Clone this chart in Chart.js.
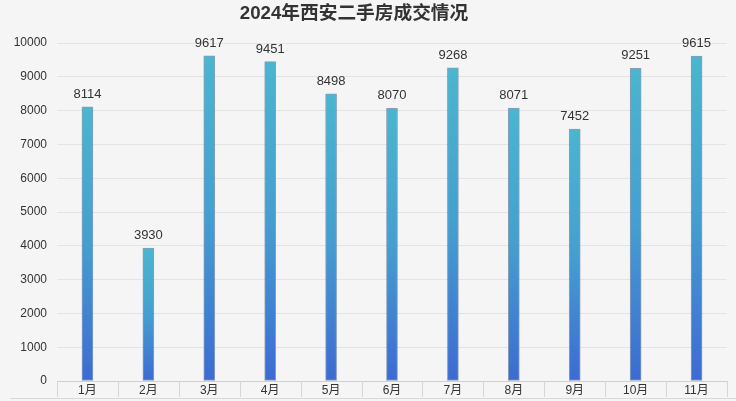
<!DOCTYPE html>
<html>
<head>
<meta charset="utf-8">
<script src="https://cdn.jsdelivr.net/npm/chart.js@4.4.1/dist/chart.umd.min.js"></script>
<style>
html,body{margin:0;padding:0;background:#f5f5f5;}
#wrap{position:relative;width:736px;height:401px;}
#bottomLine{position:absolute;left:10px;right:0;top:398px;height:1px;background:#d8d8d8;}
</style>
</head>
<body>
<div id="wrap"><canvas id="c"></canvas><div id="bottomLine"></div></div>
<script>
const titleText = '2024年西安二手房成交情况';
const categories = ['1月','2月','3月','4月','5月','6月','7月','8月','9月','10月','11月'];
const deals = [8114, 3930, 9617, 9451, 8498, 8070, 9268, 8071, 7452, 9251, 9615];
const yTicks = [0,1000,2000,3000,4000,5000,6000,7000,8000,9000,10000];

const labelPlugin = {
  id: 'valueLabels',
  afterDatasetsDraw(chart){
    const ctx = chart.ctx;
    const meta = chart.getDatasetMeta(0);
    ctx.save();
    ctx.font = '13px "Liberation Sans", Arial, sans-serif';
    ctx.fillStyle = '#333';
    ctx.textAlign = 'center';
    ctx.textBaseline = 'bottom';
    meta.data.forEach((bar, i) => {
      ctx.fillText(String(deals[i]), bar.x, bar.y - 6);
    });
    ctx.restore();
  }
};

const titlePlugin = {
  id: 'customTitle',
  afterDraw(chart){
    const ctx = chart.ctx;
    ctx.save();
    ctx.font = 'bold 18.7px "Liberation Sans", "Noto Sans CJK SC", sans-serif';
    ctx.fillStyle = '#333';
    ctx.textAlign = 'center';
    ctx.textBaseline = 'middle';
    ctx.fillText(titleText, 354, 14);
    ctx.restore();
  }
};

const separatorPlugin = {
  id: 'xSeparators',
  afterDraw(chart){
    const ctx = chart.ctx;
    const xs = chart.scales.x;
    const area = chart.chartArea;
    const half = (xs.getPixelForValue(1) - xs.getPixelForValue(0)) / 2;
    ctx.save();
    ctx.strokeStyle = '#d6d6d6';
    ctx.lineWidth = 1;
    ctx.beginPath();
    for (let i = 0; i <= categories.length; i++) {
      const x = Math.round(xs.getPixelForValue(i) - half) + 0.5;
      ctx.moveTo(x, area.bottom);
      ctx.lineTo(x, area.bottom + 16);
    }
    ctx.stroke();
    ctx.restore();
  }
};

new Chart(document.getElementById('c'), {
  type: 'bar',
  data: {
    labels: categories,
    datasets: [{
      data: deals,
      barThickness: 11,
      borderWidth: 1,
      borderSkipped: false,
      borderColor: 'rgba(25,70,120,0.5)',
      backgroundColor(context){
        const chart = context.chart;
        const ys = chart.scales && chart.scales.y;
        if (!ys || context.raw == null) return '#4ab6cf';
        const top = ys.getPixelForValue(context.raw);
        const base = ys.getPixelForValue(0);
        if (!isFinite(top) || !isFinite(base) || base - top < 1) return '#4ab6cf';
        const g = chart.ctx.createLinearGradient(0, top, 0, base);
        g.addColorStop(0, '#4ab6cf');
        g.addColorStop(0.5, '#449fd0');
        g.addColorStop(1, '#3d6ad4');
        return g;
      }
    }]
  },
  options: {
    responsive: true,
    maintainAspectRatio: false,
    animation: false,
    layout: { padding: { top: 43, right: 9, left: 0, bottom: 4 } },
    plugins: { legend: { display: false }, title: { display: false }, tooltip: { enabled: false } },
    scales: {
      x: {
        afterFit(axis){ axis.height = 16; },
        grid: { display: false, drawTicks: false },
        border: { display: true, color: '#cfcfcf' },
        ticks: { padding: 2, color: '#333', font: { size: 12, family: '"Liberation Sans", "Noto Sans CJK SC", sans-serif' } }
      },
      y: {
        min: 0, max: 10000,
        afterFit(axis){ axis.width = 57; },
        afterBuildTicks(axis){ axis.ticks = yTicks.map(v => ({ value: v })); },
        grid: { drawTicks: false, color: '#e4e4e4' },
        border: { display: false },
        ticks: { padding: 10, color: '#333', callback: v => String(v), font: { size: 12, family: '"Liberation Sans", Arial, sans-serif' } }
      }
    }
  },
  plugins: [labelPlugin, titlePlugin, separatorPlugin]
});
</script>
</body>
</html>
